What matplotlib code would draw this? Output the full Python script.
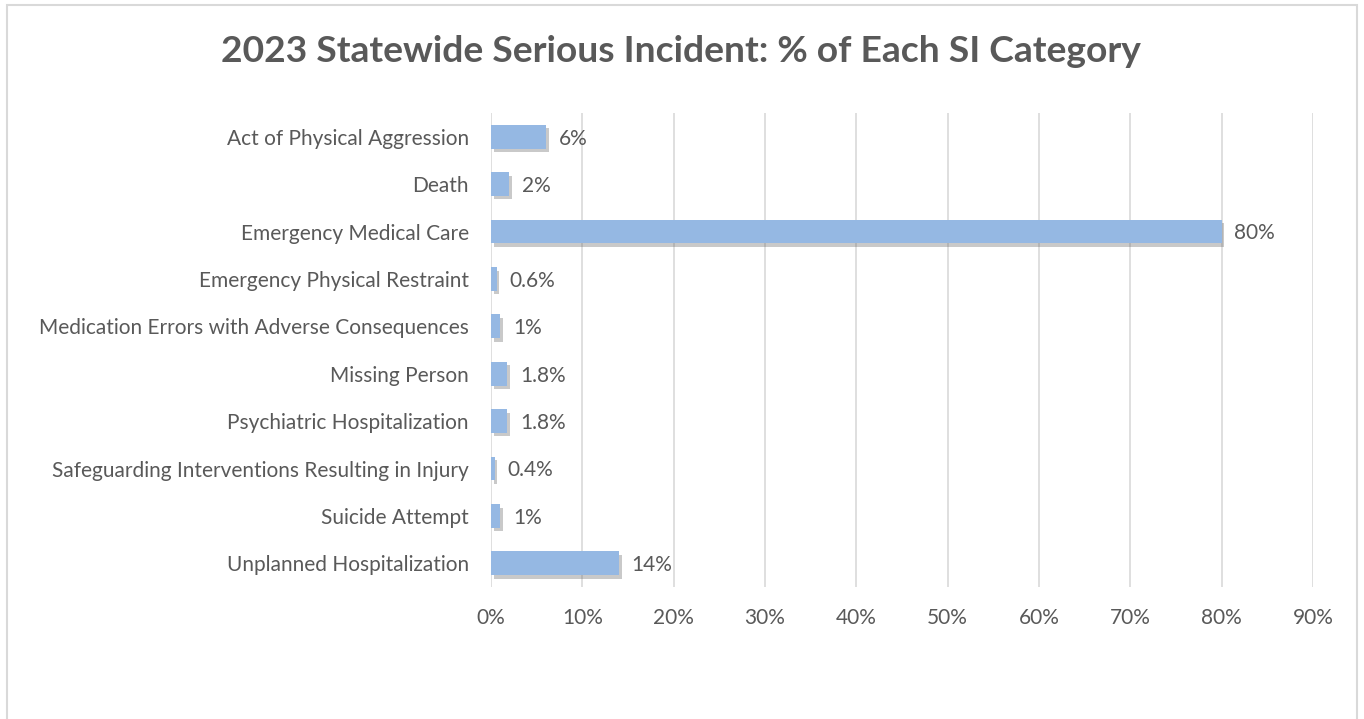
import matplotlib.pyplot as plt
import matplotlib.patheffects as pe
from matplotlib.patches import Rectangle

categories = [
    "Act of Physical Aggression",
    "Death",
    "Emergency Medical Care",
    "Emergency Physical Restraint",
    "Medication Errors with Adverse Consequences",
    "Missing Person",
    "Psychiatric Hospitalization",
    "Safeguarding Interventions Resulting in Injury",
    "Suicide Attempt",
    "Unplanned Hospitalization",
]
values = [6, 2, 80, 0.6, 1, 1.8, 1.8, 0.4, 1, 14]
labels = ["6%", "2%", "80%", "0.6%", "1%", "1.8%", "1.8%", "0.4%", "1%", "14%"]
ticks = list(range(0, 100, 10))

plt.rcParams['font.family'] = ['Lato', 'DejaVu Sans']
gray = '#595959'

fig = plt.figure(figsize=(13.64, 7.19), dpi=100)
ax = fig.add_axes([0.36, 0.1836, 0.6026, 0.6592])

# chart border
fig.patches.append(Rectangle((7 / 1364, -0.05), 1350 / 1364, 1 - 5 / 719 + 0.05,
                             transform=fig.transFigure, fill=False,
                             edgecolor='#d9d9d9', linewidth=1.5))

y = list(range(len(categories)))
bars = ax.barh(y, values, height=0.5, color='#95b8e3', edgecolor='none', zorder=3)
for b in bars:
    b.set_path_effects([pe.SimplePatchShadow(offset=(2, -2.5), shadow_rgbFace='#666666', alpha=0.35),
                        pe.Normal()])

for yi, v, lab in zip(y, values, labels):
    ax.text(v + 1.4, yi + 0.04, lab, va='center', ha='left', fontsize=15, color=gray)

ax.set_ylim(len(categories) - 0.5, -0.5)
ax.set_xlim(0, 90)
ax.set_xticks(ticks)
ax.set_xticklabels([f"{t}%" for t in ticks])
ax.set_yticks(y)
ax.set_yticklabels(categories)
ax.tick_params(axis='both', length=0, labelsize=15, colors=gray)
ax.tick_params(axis='x', pad=15)
ax.tick_params(axis='y', pad=16)
ax.grid(axis='x', color='#d9d9d9', linewidth=1.2, zorder=0)
for s in ax.spines.values():
    s.set_visible(False)

fig.text(681 / 1364, 1 - 51 / 719, "2023 Statewide Serious Incident: % of Each SI Category",
         ha='center', va='center', fontsize=26.8, fontweight='bold', color=gray)

fig.savefig("out.png", dpi=100)
